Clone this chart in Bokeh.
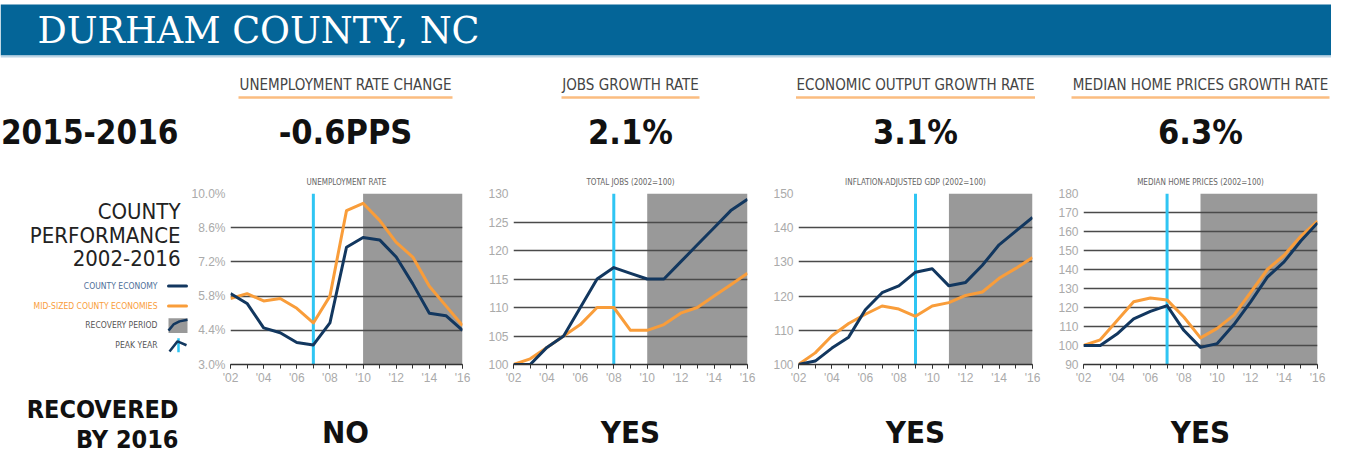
from bokeh.plotting import figure
from bokeh.layouts import column, row
from bokeh.models import Range1d, FixedTicker, PrintfTickFormatter
from bokeh.core.properties import value
from bokeh.embed import file_html
from bokeh.resources import INLINE

# ---------------- data ----------------
years = list(range(2002, 2017))
x_tick_years = [2002, 2004, 2006, 2008, 2010, 2012, 2014, 2016]

unemp_county = [5.9, 5.5, 4.5, 4.3, 3.9, 3.8, 4.7, 7.8, 8.2, 8.1, 7.4, 6.3, 5.1, 5.0, 4.4]
unemp_mid = [5.7, 5.9, 5.6, 5.7, 5.3, 4.7, 5.8, 9.3, 9.6, 8.9, 8.0, 7.4, 6.2, 5.4, 4.6]
jobs_county = [100, 100, 103, 105, 110, 115, 117, 116, 115, 115, 118, 121, 124, 127, 129]
jobs_mid = [100, 101, 103, 105, 107, 110, 110, 106, 106, 107, 109, 110, 112, 114, 116]
gdp_county = [100, 101, 104.8, 108, 116, 121, 123, 127, 128, 123, 124, 129, 135, 139, 143]
gdp_mid = [100, 103.4, 108.4, 112, 114.7, 117.1, 116.2, 114.1, 117.1, 118.1, 120.2, 121.2, 125.2, 128.1, 131.3]
home_county = [100, 100, 106, 114, 118, 121, 108, 99, 101, 111, 123, 136, 144, 155, 164.5]
home_mid = [100, 103, 113, 123, 125, 124, 115, 104, 109, 116, 128, 140, 147.5, 157.5, 165.5]

county_series = [unemp_county, jobs_county, gdp_county, home_county]
mid_series = [unemp_mid, jobs_mid, gdp_mid, home_mid]

chart_titles = ["UNEMPLOYMENT RATE", "TOTAL JOBS (2002=100)",
                "INFLATION-ADJUSTED GDP (2002=100)", "MEDIAN HOME PRICES (2002=100)"]
y_ticks = [
    [3.0, 4.4, 5.8, 7.2, 8.6, 10.0],
    [100, 105, 110, 115, 120, 125, 130],
    [100, 110, 120, 130, 140, 150],
    [90, 100, 110, 120, 130, 140, 150, 160, 170, 180],
]
y_formats = ["%.1f%%", "%d", "%d", "%d"]
peak_years = [2007, 2008, 2009, 2007]
recovery_start = [2010, 2010, 2011, 2009]

headline_titles = ["UNEMPLOYMENT RATE CHANGE", "JOBS GROWTH RATE",
                   "ECONOMIC OUTPUT GROWTH RATE", "MEDIAN HOME PRICES GROWTH RATE"]
headline_values = ["-0.6PPS", "2.1%", "3.1%", "6.3%"]
recovered = ["NO", "YES", "YES", "YES"]
legend_labels = ["COUNTY ECONOMY", "MID-SIZED COUNTY ECONOMIES", "RECOVERY PERIOD", "PEAK YEAR"]

# ---------------- style ----------------
NAVY = "#12375f"
ORANGE = "#f99d3a"
CYAN = "#2fc5f3"
SHADE = "#999999"
BANNER = "#046598"
COND = "'DejaVu Sans Condensed', sans-serif"
SANS = "'Liberation Sans', Arial, sans-serif"

TOTAL_W = 1331
HEAD_H = 165
ROW_H = 222
BOT_H = 69
LEFT_W = 188
chart_widths = [284, 285, 285, 285]
chart_left = [40, 41, 41, 41]
RIGHT_B = 10
FRAME_W = 234
centers = []
acc = LEFT_W
for w, l in zip(chart_widths, chart_left):
    centers.append(acc + l + FRAME_W / 2)
    acc += w
underline_w = [214, 138, 239, 258]


def blank(width, height):
    p = figure(width=width, height=height, x_range=Range1d(0, width), y_range=Range1d(height, 0),
               toolbar_location=None, output_backend="svg", x_axis_type=None, y_axis_type=None,
               min_border=0)
    p.outline_line_color = None
    p.grid.visible = False
    return p


# ---------------- header ----------------
h = blank(TOTAL_W, HEAD_H)
h.quad(left=[0], right=[TOTAL_W], top=[4], bottom=[55], fill_color=BANNER, line_color=None)
h.segment(x0=[0], y0=[56], x1=[TOTAL_W], y1=[56], line_color="#bcd4e5", line_width=2)
h.text(x=[37], y=[30], text=["DURHAM COUNTY, NC"], text_font=value("DejaVu Serif"),
       text_font_size="36.5px", text_color="white", text_baseline="middle")
h.text(x=[178], y=[131], text=["2015-2016"], text_font=value(COND), text_font_style="bold",
       text_font_size="33px", text_color="#111111", text_align="right", text_baseline="middle")
h.text(x=centers, y=[84] * 4, text=headline_titles, text_font=value(COND), text_font_size="15px",
       text_color="#444444", text_align="center", text_baseline="middle")
h.segment(x0=[c - w / 2 for c, w in zip(centers, underline_w)], y0=[97] * 4,
          x1=[c + w / 2 for c, w in zip(centers, underline_w)], y1=[97] * 4,
          line_color="#fbbd80", line_width=2.5)
h.text(x=centers, y=[131] * 4, text=headline_values, text_font=value(COND), text_font_style="bold",
       text_font_size="34px", text_color="#111111", text_align="center", text_baseline="middle")

# ---------------- left legend panel ----------------
lp = blank(LEFT_W, ROW_H)
lp.text(x=[180] * 3, y=[24, 54, 84], text=["COUNTY", "PERFORMANCE", "2002-2016"],
        text_font=value(COND), text_font_size="22px", text_color="#222222",
        text_align="right", text_baseline="middle")
lp.text(x=[157] * 4, y=[120, 146, 171, 197], text=legend_labels, text_font=value(COND),
        text_font_size="8.5px", text_color=["#4e6f98", ORANGE, "#555555", "#555555"],
        text_align="right", text_baseline="middle")
lp.segment(x0=[168], y0=[120], x1=[186], y1=[120], line_color=NAVY, line_width=3, line_cap="round")
lp.segment(x0=[168], y0=[146], x1=[186], y1=[146], line_color=ORANGE, line_width=3, line_cap="round")
lp.quad(left=[168], right=[187], top=[162], bottom=[181], fill_color=SHADE, line_color=None)
lp.line(x=[168, 173, 179, 187], y=[178, 170, 166, 164], line_color=NAVY, line_width=2.5)
lp.segment(x0=[178], y0=[188], x1=[178], y1=[206], line_color=CYAN, line_width=2.5)
lp.line(x=[169, 177, 186], y=[205, 192, 197], line_color=NAVY, line_width=2.5)

# ---------------- charts ----------------
charts = []
for i in range(4):
    ticks = y_ticks[i]
    ymin, ymax = ticks[0], ticks[-1]
    p = figure(width=chart_widths[i], height=ROW_H, x_range=Range1d(2002, 2016),
               y_range=Range1d(ymin, ymax), toolbar_location=None, output_backend="svg",
               min_border_left=chart_left[i], min_border_right=RIGHT_B, min_border_top=28,
               min_border_bottom=20, title=chart_titles[i])
    p.outline_line_color = None
    p.title.align = "center"
    p.title.text_font = COND
    p.title.text_font_size = "8px"
    p.title.text_font_style = "normal"
    p.title.text_color = "#666666"
    p.title.standoff = 13
    p.quad(left=[recovery_start[i]], right=[2016], bottom=[ymin], top=[ymax],
           fill_color=SHADE, line_color=None, level="image")
    p.segment(x0=[peak_years[i]], y0=[ymin], x1=[peak_years[i]], y1=[ymax],
              line_color=CYAN, line_width=3)
    p.line(years, mid_series[i], line_color=ORANGE, line_width=3, line_join="round")
    p.line(years, county_series[i], line_color=NAVY, line_width=3, line_join="round")

    p.xgrid.visible = False
    p.ygrid.grid_line_color = "#4a4a4a"
    p.ygrid.grid_line_width = 1.5
    p.ygrid.ticker = FixedTicker(ticks=ticks)

    xa = p.xaxis[0]
    xa.ticker = FixedTicker(ticks=x_tick_years, minor_ticks=years)
    xa.major_label_overrides = {y: "'%02d" % (y % 100) for y in x_tick_years}
    xa.axis_line_color = "#333333"
    xa.axis_line_width = 1.5
    xa.major_tick_line_color = "#333333"
    xa.minor_tick_line_color = "#333333"
    xa.major_tick_in = 0
    xa.major_tick_out = 4
    xa.minor_tick_in = 0
    xa.minor_tick_out = 4
    xa.major_label_standoff = 2
    xa.major_label_text_font = SANS
    xa.major_label_text_font_size = "12px"
    xa.major_label_text_color = "#aaaaaa"

    ya = p.yaxis[0]
    ya.ticker = FixedTicker(ticks=ticks)
    ya.formatter = PrintfTickFormatter(format=y_formats[i])
    ya.axis_line_color = None
    ya.major_tick_line_color = None
    ya.minor_tick_line_color = None
    ya.major_tick_out = 0
    ya.major_tick_in = 0
    ya.minor_tick_out = 0
    ya.major_label_standoff = 5
    ya.major_label_text_font = SANS
    ya.major_label_text_font_size = "12px"
    ya.major_label_text_color = "#aaaaaa"
    charts.append(p)

# ---------------- bottom ----------------
b = blank(TOTAL_W, BOT_H)
b.text(x=[178, 178], y=[22, 52], text=["RECOVERED", "BY 2016"], text_font=value(COND),
       text_font_style="bold", text_font_size="25px", text_color="#111111",
       text_align="right", text_baseline="middle")
b.text(x=centers, y=[44] * 4, text=recovered, text_font=value(COND), text_font_style="bold",
       text_font_size="31px", text_color="#111111", text_align="center", text_baseline="middle")

layout = column(h, row(lp, *charts), b)
open("out.html", "w").write(file_html(layout, INLINE))
